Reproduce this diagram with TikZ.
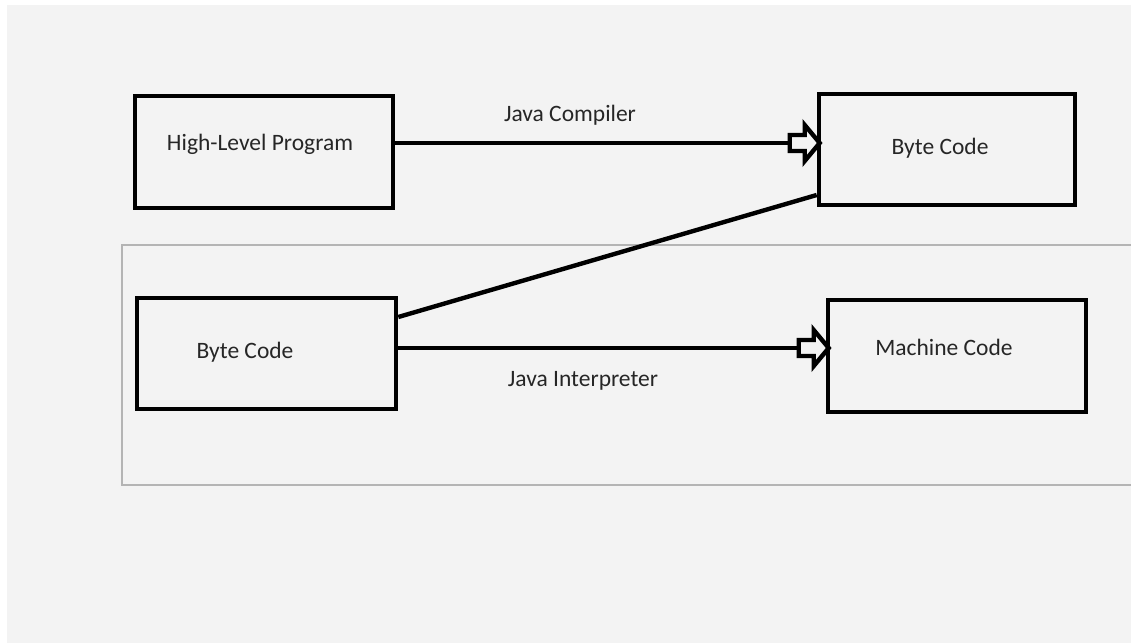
\documentclass[tikz,border=0pt]{standalone}
\usepackage{fontspec}
\setmainfont{Carlito}
\usetikzlibrary{calc}
\definecolor{bg}{HTML}{F3F3F3}
\definecolor{frame}{HTML}{B4B4B4}
\definecolor{txt}{HTML}{262626}
\tikzset{
  box/.style={draw=black, line width=4.6pt, minimum width=#1, inner sep=0pt, fill=bg},
  lbl/.style={font=\fontsize{23.5}{28}\selectfont, text=txt, inner sep=0pt},
  conn/.style={draw=black, line width=4.4pt},
  hollow/.pic={\draw[line width=4.4pt, fill=bg, line join=miter, miter limit=10]
     (0,0) -- (-15,-18) -- (-15,-8) -- (-30,-8) -- (-30,8) -- (-15,8) -- (-15,18) -- cycle;}
}
\begin{document}
\begin{tikzpicture}[x=1pt,y=-1pt]
\useasboundingbox (0,0) rectangle (1131,643);
\fill[white] (0,0) rectangle (1131,643);
\fill[bg] (7,5) rectangle (1131,643);
% thin frame
\draw[frame, line width=1.5pt] (1131,245) -- (122,245) -- (122,485) -- (1131,485);
% boxes
\node[box=258pt, minimum height=112pt] (hl) at (264,152) {};
\node[box=256pt, minimum height=111pt] (bc1) at (947,149.5) {};
\node[box=259pt, minimum height=111pt] (bc2) at (266.5,353.5) {};
\node[box=258pt, minimum height=112pt] (mc) at (957,356) {};
% labels
\node[lbl] (thl) at (260,144) {High-Level Program};
\node[lbl] (tbc1) at (940,148) {Byte Code};
\node[lbl] (tbc2) at (245,352) {Byte Code};
\node[lbl] (tmc) at (944,347) {Machine Code};
\node[lbl] (tjc) at (570,115) {Java Compiler};
\node[lbl] (tji) at (583,381) {Java Interpreter};
% connectors
\coordinate (ya) at (0,143);
\coordinate (yb) at (0,348);
\coordinate (yc) at (0,317);
\coordinate (yd) at (0,195);
\draw[conn] (hl.east |- ya) -- (bc1.west |- ya);
\draw[conn] (bc2.east |- yb) -- (mc.west |- yb);
\draw[conn] (bc2.east |- yc) -- (bc1.west |- yd);
\pic at ($(bc1.west |- ya)+(3,0)$) {hollow};
\pic at ($(mc.west |- yb)+(3,0)$) {hollow};
\end{tikzpicture}
\end{document}
